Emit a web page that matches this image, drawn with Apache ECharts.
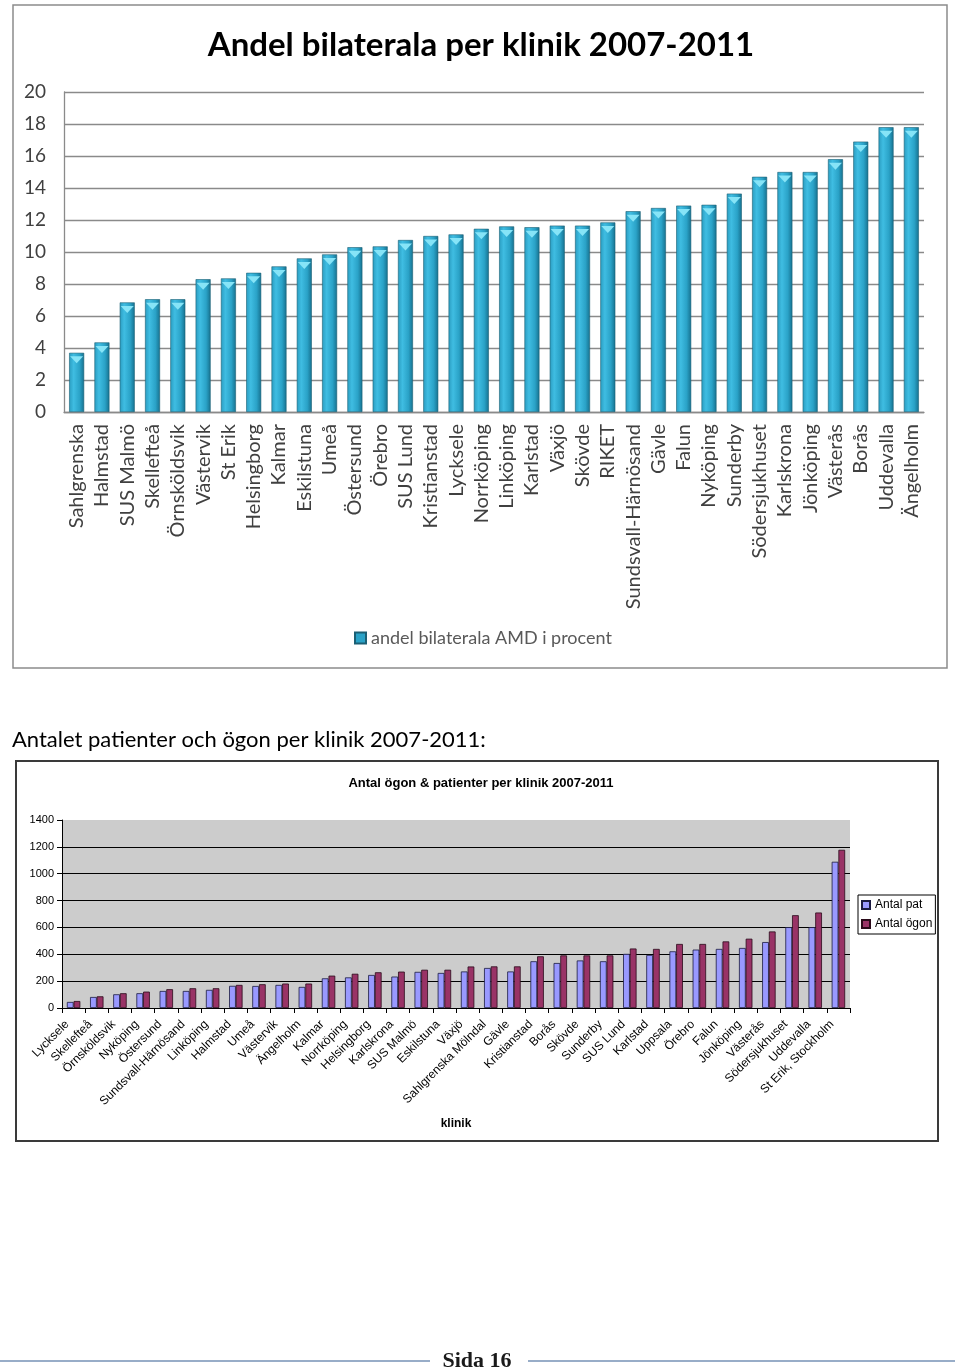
<!DOCTYPE html>
<html><head><meta charset="utf-8">
<script src="https://cdn.jsdelivr.net/npm/echarts@6/dist/echarts.min.js"></script>
<style>html,body{margin:0;padding:0;background:#fff}#c{width:960px;height:1370px}</style>
</head><body><div id="c"></div><script>
// ---- Top chart data ----
const topCategories = ['Sahlgrenska','Halmstad','SUS Malmö','Skellefteå','Örnsköldsvik','Västervik','St Erik','Helsingborg','Kalmar','Eskilstuna','Umeå','Östersund','Örebro','SUS Lund','Kristianstad','Lycksele','Norrköping','Linköping','Karlstad','Växjö','Skövde','RIKET','Sundsvall-Härnösand','Gävle','Falun','Nyköping','Sunderby','Södersjukhuset','Karlskrona','Jönköping','Västerås','Borås','Uddevalla','Ängelholm'];
const topValues = [3.7,4.35,6.85,7.05,7.05,8.3,8.35,8.7,9.1,9.6,9.85,10.3,10.35,10.75,11.0,11.1,11.45,11.6,11.55,11.65,11.65,11.85,12.55,12.75,12.9,12.95,13.65,14.7,15.0,15.0,15.8,16.9,17.8,17.8];
const topSeriesName = 'andel bilaterala AMD i procent';
const topTitle = 'Andel bilaterala per klinik 2007-2011';

// ---- Bottom chart data ----
const bottomCategories = ['Lycksele','Skellefteå','Örnsköldsvik','Nyköping','Östersund','Sundsvall-Härnösand','Linköping','Halmstad','Umeå','Västervik','Ängelholm','Kalmar','Norrköping','Helsingborg','Karlskrona','SUS Malmö','Eskilstuna','Växjö','Sahlgrenska Mölndal','Gävle','Kristianstad','Borås','Skövde','Sunderby','SUS Lund','Karlstad','Uppsala','Örebro','Falun','Jönköping','Västerås','Södersjukhuset','Uddevalla','St Erik, Stockholm'];
const antalPat  = [45,82,102,110,127,127,135,165,164,172,157,221,228,246,234,269,261,272,298,272,348,335,354,348,403,395,422,435,440,447,491,602,602,1089];
const antalOgon = [52,87,110,122,140,147,147,172,177,182,182,241,255,266,271,285,285,309,310,310,385,392,392,392,443,440,477,477,496,516,570,691,711,1178];
const bottomTitle = 'Antal ögon & patienter per klinik 2007-2011';
const introText = 'Antalet patienter och ögon per klinik 2007-2011:';
const footerText = 'Sida 16';

const chart = echarts.init(document.getElementById('c'), null, {renderer:'canvas'});
const calibri = 'Lato, "Open Sans", sans-serif';
const arial = '"Liberation Sans", Arial, sans-serif';

const barGrad = new echarts.graphic.LinearGradient(0,0,1,0,[
  {offset:0,color:'#2a9cc0'},{offset:0.3,color:'#3fbde2'},{offset:0.7,color:'#2aa2c7'},{offset:1,color:'#16708e'}
]);

chart.setOption({
  animation:false,
  backgroundColor:'#ffffff',
  title:[
    {text:topTitle,left:476,top:24,textAlign:'center',textStyle:{fontFamily:calibri,fontWeight:'bold',fontSize:33,color:'#000'}},
    {text:bottomTitle,left:476,top:772,textAlign:'center',textStyle:{fontFamily:arial,fontWeight:'bold',fontSize:13,color:'#000'}}
  ],
  legend:[
    {data:[{name:topSeriesName,itemStyle:{color:'#2aa2c7'}}],left:349,top:624,icon:'rect',itemWidth:11,itemHeight:11,itemGap:6,
     textStyle:{fontFamily:calibri,fontSize:18,color:'#595959'}},
    {data:['Antal pat','Antal ögon'],orient:'vertical',left:858,top:895,icon:'rect',itemWidth:8,itemHeight:8,itemGap:7,
     padding:[4,3,4,3],borderColor:'#000',borderWidth:1,backgroundColor:'#fff',
     textStyle:{fontFamily:arial,fontSize:12,color:'#000'}}
  ],
  grid:[
    {left:64,top:92,width:860,height:320},
    {left:62,top:820,width:788,height:188,backgroundColor:'#cccccc',show:true,borderWidth:0}
  ],
  xAxis:[
    {type:'category',gridIndex:0,data:topCategories,
     axisLine:{lineStyle:{color:'#8a8a8a',width:1.3}},axisTick:{show:false},
     axisLabel:{interval:0,rotate:90,margin:12,fontFamily:calibri,fontSize:20,color:'#404040'}},
    {type:'category',gridIndex:1,data:bottomCategories,
     axisLine:{lineStyle:{color:'#000',width:1}},axisTick:{show:true,length:5,lineStyle:{color:'#000'}},
     axisLabel:{interval:0,rotate:45,margin:8,padding:[0,9,0,0],fontFamily:arial,fontSize:12,color:'#000'},
     name:'klinik',nameLocation:'middle',nameGap:110,nameTextStyle:{fontFamily:arial,fontWeight:'bold',fontSize:12,color:'#000'}}
  ],
  yAxis:[
    {type:'value',gridIndex:0,min:0,max:20,interval:2,
     axisLine:{show:true,lineStyle:{color:'#8a8a8a',width:1.3}},axisTick:{show:false},
     splitLine:{lineStyle:{color:'#8a8a8a',width:1.3}},
     axisLabel:{margin:18,fontFamily:calibri,fontSize:19,color:'#404040'}},
    {type:'value',gridIndex:1,min:0,max:1400,interval:200,
     axisLine:{show:true,lineStyle:{color:'#000'}},axisTick:{show:true,length:5,lineStyle:{color:'#000'}},
     splitLine:{show:true,showMaxLine:false,lineStyle:{color:'#000',width:1}},
     axisLabel:{margin:8,fontFamily:arial,fontSize:11,color:'#000',formatter:function(v){return String(v);}}}
  ],
  series:[
    {name:topSeriesName,type:'bar',xAxisIndex:0,yAxisIndex:0,data:topValues,barWidth:15,
     itemStyle:{color:barGrad,borderColor:'#1b5f74',borderWidth:0.6}},
    {name:'topcap',type:'pictorialBar',xAxisIndex:0,yAxisIndex:0,data:topValues,symbol:'triangle',symbolRotate:180,
     symbolSize:[13,7],symbolPosition:'end',symbolOffset:[0,'50%'],z:5,itemStyle:{color:'#86e4f7'},silent:true},
    {name:'Antal pat',type:'bar',xAxisIndex:1,yAxisIndex:1,data:antalPat,barWidth:'29%',barGap:'0%',
     itemStyle:{color:'#9999ff',borderColor:'#1a1a40',borderWidth:0.8}},
    {name:'Antal ögon',type:'bar',xAxisIndex:1,yAxisIndex:1,data:antalOgon,barWidth:'29%',barGap:'0%',
     itemStyle:{color:'#993366',borderColor:'#2a0a1a',borderWidth:0.8}}
  ],
  graphic:[
    {type:'rect',shape:{x:13,y:5,width:934,height:663},style:{fill:null,stroke:'#8c8c8c',lineWidth:1.5},z:-1},
    {type:'text',left:12,top:729,style:{text:introText,font:'22px '+calibri,fill:'#000'}},
    {type:'rect',shape:{x:16,y:761,width:922,height:380},style:{fill:null,stroke:'#3a3a3a',lineWidth:2},z:-1},
    {type:'line',shape:{x1:0,y1:1361,x2:430,y2:1361},style:{stroke:'#98adc8',lineWidth:2}},
    {type:'line',shape:{x1:528,y1:1361,x2:955,y2:1361},style:{stroke:'#98adc8',lineWidth:2}},
    {type:'text',x:477,y:1361,style:{text:footerText,font:'bold 22px "Liberation Serif", "DejaVu Serif", serif',fill:'#1a1a1a',textAlign:'center',textVerticalAlign:'middle'}}
  ]
});
</script></body></html>
